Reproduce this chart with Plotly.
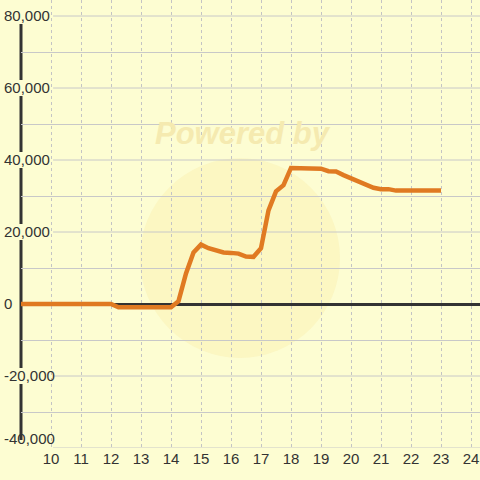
import plotly.graph_objects as go

# ---- data ----
hours = [9.0, 9.25, 9.5, 9.75, 10.0, 10.25, 10.5, 10.75, 11.0, 11.25, 11.5, 11.75, 12.0,
         12.25, 12.5, 12.75, 13.0, 13.25, 13.5, 13.75, 14.0,
         14.25, 14.5, 14.75, 15.0, 15.25, 15.5, 15.75, 16.0, 16.25, 16.5, 16.75, 17.0,
         17.25, 17.5, 17.75, 18.0, 18.25, 18.5, 18.75, 19.0, 19.25, 19.5, 19.75, 20.0,
         20.25, 20.5, 20.75, 21.0, 21.25, 21.5, 21.75, 22.0, 22.25, 22.5, 22.75, 23.0]
values = [0, 0, 0, 0, 0, 0, 0, 0, 0, 0, 0, 0, 0,
          -900, -900, -900, -900, -900, -900, -900, -900,
          800, 8500, 14300, 16500, 15500, 14800, 14300, 14200, 14000, 13200, 13100, 15500,
          26000, 31300, 33000, 37800, 37700, 37700, 37700, 37600, 36900, 36800, 35800, 34900,
          34300, 33200, 32300, 31900, 31900, 31500, 31500, 31500, 31500, 31500, 31500, 31500]

x_ticks = [10, 11, 12, 13, 14, 15, 16, 17, 18, 19, 20, 21, 22, 23, 24]
y_ticks = [-40000, -20000, 0, 20000, 40000, 60000, 80000]
y_minor = [-30000, -10000, 10000, 30000, 50000, 70000]
y_labels = [f"{v:,}" for v in y_ticks]
# the bottom label sits just above the plot edge: pad it with an empty second line
y_labels[0] = y_labels[0] + "<br>\u00a0"

BG = "#FDFDD2"
GRID = "#C8C8C8"
DARK = "#333333"
FONT = "Liberation Sans, Arial, sans-serif"
X_MIN, X_MAX = 9.0, 24.3
Y_MIN, Y_MAX = -40000, 84444
GAP = 2222          # label box half-height in data units
LABEL_END_X = 10.07  # gridlines resume after label text

fig = go.Figure()
fig.add_trace(go.Scatter(x=hours, y=values, mode="lines",
                         line=dict(color="#E07A22", width=4.5),
                         hoverinfo="skip", showlegend=False))

shapes = []
# faint watermark circle
shapes.append(dict(type="circle", xref="paper", yref="paper",
                   x0=0.259, x1=0.695, y0=0.201, y1=0.647,
                   fillcolor="rgba(250,236,165,0.35)", line=dict(width=0), layer="below"))
# labeled gridlines (start after the label text)
for v in y_ticks:
    if v == 0:
        continue
    shapes.append(dict(type="line", xref="x", yref="y", x0=LABEL_END_X, x1=X_MAX, y0=v, y1=v,
                       line=dict(color=GRID, width=1), layer="below"))
# y axis line with gaps behind labels
overl = [v for v in y_ticks if v != 0]
for a, b in zip(overl[:-1], overl[1:]):
    shapes.append(dict(type="line", xref="paper", yref="y", x0=0, x1=0,
                       y0=a + GAP, y1=b - GAP,
                       line=dict(color=DARK, width=3), layer="between"))

fig.update_layout(
    width=480, height=480,
    margin=dict(l=21, r=0, t=0, b=32, autoexpand=False),
    paper_bgcolor=BG, plot_bgcolor=BG,
    font=dict(family=FONT, size=15, color=DARK),
    shapes=shapes,
    annotations=[dict(text="<b><i>Powered by</i></b>", xref="paper", yref="paper",
                      x=0.484, y=0.745, showarrow=False,
                      font=dict(size=31, color="#F5EAB0", family=FONT))],
    xaxis=dict(range=[X_MIN, X_MAX], tickvals=x_ticks, ticktext=[str(t) for t in x_ticks],
               showgrid=True, gridcolor="#C4C4C4", griddash="3px,3px", gridwidth=1,
               zeroline=False, showline=False, ticks="", automargin=False,
               tickfont=dict(size=15, color=DARK, family=FONT)),
    yaxis=dict(range=[Y_MIN, Y_MAX], tickvals=y_ticks, ticktext=y_labels,
               showgrid=False, zeroline=True, zerolinecolor=DARK, zerolinewidth=3,
               showline=False, ticks="", automargin=False,
               ticklabelposition="inside", ticklabeloverflow="allow",
               ticklabelstandoff=-20,
               tickfont=dict(size=15, color=DARK, family=FONT),
               minor=dict(tickvals=y_minor, showgrid=True, gridcolor=GRID, gridwidth=1)),
)

fig.write_html("out.html", config={"displayModeBar": False},
               post_script="document.body.style.margin='0';document.body.style.background='%s';" % BG)
